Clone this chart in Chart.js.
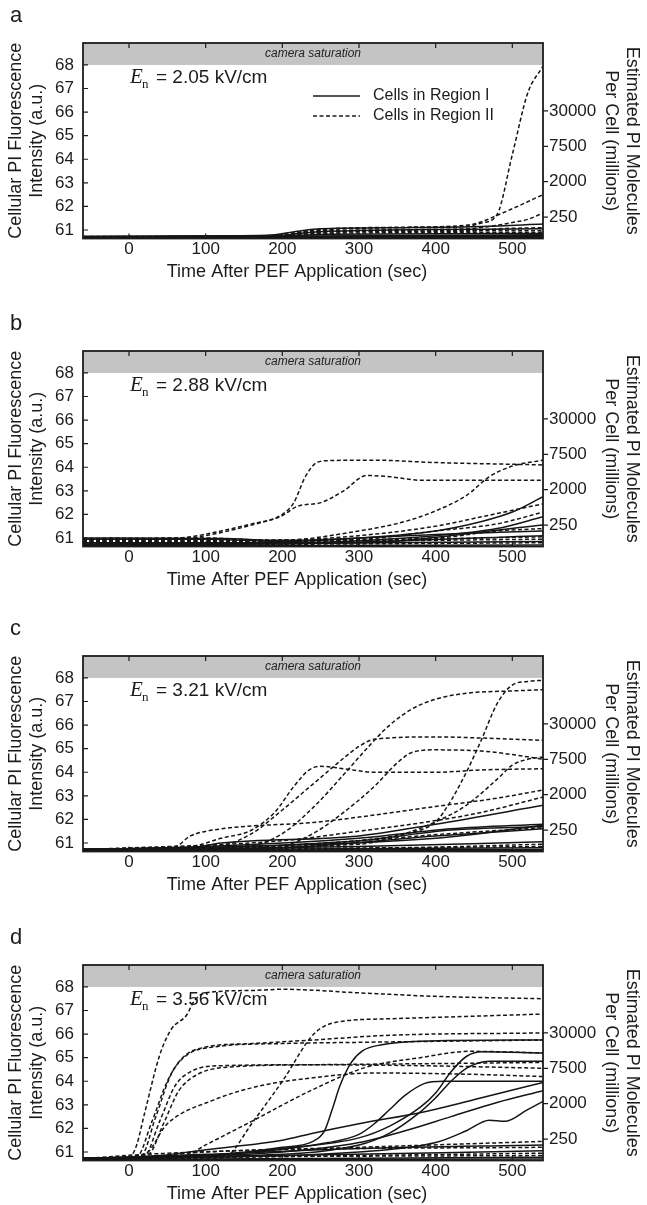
<!DOCTYPE html>
<html>
<head>
<meta charset="utf-8">
<script src="https://cdn.jsdelivr.net/npm/chart.js@4.4.1/dist/chart.umd.min.js"></script>
<style>
  html, body { margin: 0; padding: 0; background: #fff; overflow: hidden; }
  .panel { position: absolute; left: 0; width: 647px; height: 283px; }
</style>
</head>
<body>
<div class="panel" style="top:0px"><canvas id="chartA" width="647" height="283"></canvas></div>
<div class="panel" style="top:308px"><canvas id="chartB" width="647" height="283"></canvas></div>
<div class="panel" style="top:613px"><canvas id="chartC" width="647" height="283"></canvas></div>
<div class="panel" style="top:922px"><canvas id="chartD" width="647" height="283"></canvas></div>
<script>
// axis settings
const xTicks = [0, 100, 200, 300, 400, 500];
const yTicks = [61, 62, 63, 64, 65, 66, 67, 68];
const rightTickValues = [61.55, 63.05, 64.55, 66.05];
const rightTickLabels = ['250', '2000', '7500', '30000'];
const fieldStrengths = ['2.05', '2.88', '3.21', '3.56'];
const panelLetters = ['a', 'b', 'c', 'd'];
const saturationLevel = 68;
const xMin = -60, xMax = 540;
const yMin = 60.64, yMax = 68.93;

// each trace = [time (s), intensity] pairs
// panel a  (2.05 kV/cm)
const aRegionI = [
  [[-60, 60.72], [40, 60.74], [180, 60.78], [220, 60.95], [250, 61.05], [360, 61.1], [460, 61.15], [540, 61.25]],
  [[-60, 60.7], [180, 60.72], [220, 60.85], [260, 60.95], [540, 61.05]],
  [[-60, 60.69], [540, 60.72]],
  [[-60, 60.7], [200, 60.74], [540, 60.8]],
  [[-60, 60.71], [160, 60.72], [540, 60.76]],
  [[-60, 60.67], [540, 60.68]],
  [[-60, 60.73], [200, 60.75], [260, 60.82], [540, 60.85]]
];
const aRegionII = [
  [[-60, 60.72], [180, 60.74], [220, 60.9], [260, 61.02], [360, 61.1], [440, 61.15], [460, 61.3], [480, 61.65], [500, 64.2], [520, 66.8], [540, 67.95]],
  [[-60, 60.71], [200, 60.76], [240, 61.0], [360, 61.12], [440, 61.2], [460, 61.35], [480, 61.62], [500, 61.9], [520, 62.2], [540, 62.5]],
  [[-60, 60.7], [200, 60.74], [240, 60.95], [440, 61.05], [480, 61.2], [500, 61.32], [520, 61.45], [540, 61.72]],
  [[-60, 60.7], [200, 60.73], [240, 60.9], [440, 60.95], [480, 61.05], [540, 61.1]],
  [[-60, 60.7], [200, 60.72], [240, 60.85], [540, 60.9]],
  [[-60, 60.69], [540, 60.75]],
  [[-60, 60.68], [220, 60.72], [260, 60.93], [540, 60.97]]
];

// panel b  (2.88 kV/cm)
const bRegionI = [
  [[-60, 60.95], [100, 60.95], [200, 60.85], [300, 61.0], [400, 61.3], [460, 61.7], [500, 62.1], [540, 62.75]],
  [[-60, 60.8], [200, 60.8], [400, 61.1], [480, 61.4], [540, 61.9]],
  [[-60, 60.75], [300, 60.8], [540, 61.55]],
  [[-60, 60.7], [540, 60.85]],
  [[-60, 60.72], [200, 60.75], [540, 61.1]],
  [[-60, 60.67], [540, 60.7]],
  [[-60, 61.0], [120, 60.98], [200, 60.9], [400, 61.15], [540, 61.3]]
];
const bRegionII = [
  [[-60, 60.95], [40, 60.98], [80, 61.05], [120, 61.3], [160, 61.6], [200, 62.0], [215, 62.5], [230, 63.6], [245, 64.2], [260, 64.28], [320, 64.3], [400, 64.2], [540, 64.1]],
  [[-60, 60.9], [60, 60.92], [100, 61.1], [160, 61.55], [200, 61.95], [220, 62.35], [250, 62.5], [280, 63.0], [310, 63.65], [340, 63.6], [380, 63.45], [540, 63.45]],
  [[-60, 60.85], [200, 60.9], [300, 61.3], [360, 61.7], [400, 62.15], [440, 62.8], [470, 63.6], [500, 64.05], [540, 64.3]],
  [[-60, 60.9], [200, 60.92], [300, 61.1], [400, 61.5], [460, 61.9], [540, 62.45]],
  [[-60, 60.85], [300, 60.95], [400, 61.3], [480, 61.6], [540, 62.1]],
  [[-60, 60.82], [400, 61.0], [480, 61.3], [540, 61.4]],
  [[-60, 60.75], [540, 60.95]],
  [[-60, 60.7], [300, 60.75], [540, 60.8]],
  [[-60, 60.98], [100, 61.0], [200, 60.88], [540, 61.05]]
];

// panel c  (3.21 kV/cm)
const cRegionI = [
  [[-60, 60.75], [80, 60.8], [120, 61.0], [300, 61.3], [400, 61.8], [540, 62.6]],
  [[-60, 60.72], [100, 60.85], [300, 61.2], [420, 61.6], [540, 61.8]],
  [[-60, 60.72], [100, 60.8], [300, 61.1], [420, 61.55], [540, 61.7]],
  [[-60, 60.7], [200, 60.8], [400, 61.3], [540, 61.6]],
  [[-60, 60.7], [300, 60.85], [540, 61.05]],
  [[-60, 60.7], [540, 60.8]],
  [[-60, 60.68], [540, 60.72]],
  [[-60, 60.73], [150, 60.85], [400, 61.2], [540, 61.75]],
  [[-60, 60.66], [540, 60.69]]
];
const cRegionII = [
  [[-60, 60.75], [80, 60.85], [120, 61.2], [160, 61.55], [190, 62.3], [215, 63.4], [235, 64.1], [250, 64.25], [280, 64.15], [320, 64.0], [400, 64.0], [460, 64.1], [540, 64.15]],
  [[-60, 60.75], [120, 60.9], [160, 61.4], [200, 62.4], [240, 63.5], [280, 64.6], [300, 65.1], [320, 65.4], [400, 65.5], [460, 65.45], [540, 65.35]],
  [[-60, 60.72], [160, 60.9], [200, 61.4], [240, 62.5], [280, 63.9], [310, 65.0], [340, 66.0], [370, 66.7], [400, 67.1], [440, 67.35], [500, 67.45], [540, 67.5]],
  [[-60, 60.72], [200, 60.9], [240, 61.4], [280, 62.3], [320, 63.4], [350, 64.4], [370, 64.85], [400, 64.95], [460, 64.9], [500, 64.75], [540, 64.55]],
  [[-60, 60.7], [240, 60.9], [300, 61.1], [360, 61.4], [400, 61.9], [420, 62.8], [440, 64.0], [460, 65.4], [480, 66.9], [500, 67.7], [520, 67.85], [540, 67.9]],
  [[-60, 60.72], [300, 60.95], [360, 61.4], [400, 61.9], [440, 62.6], [480, 63.7], [500, 64.3], [520, 64.55], [540, 64.65]],
  [[-60, 60.75], [60, 60.85], [80, 61.3], [120, 61.6], [160, 61.72], [240, 61.87], [300, 62.1], [400, 62.55], [480, 62.9], [540, 63.25]],
  [[-60, 60.72], [200, 61.1], [300, 61.5], [400, 61.95], [460, 62.3], [540, 62.95]],
  [[-60, 60.7], [200, 60.9], [300, 61.1], [420, 61.4], [540, 61.65]],
  [[-60, 60.7], [540, 60.85]],
  [[-60, 60.68], [300, 60.75], [540, 60.95]]
];

// panel d  (3.56 kV/cm)
const dRegionI = [
  [[-60, 60.75], [100, 60.85], [200, 61.2], [240, 61.45], [255, 61.9], [265, 62.8], [275, 63.8], [290, 64.8], [305, 65.3], [330, 65.55], [380, 65.7], [540, 65.75]],
  [[-60, 60.72], [100, 60.85], [200, 61.15], [300, 61.6], [340, 62.1], [380, 62.9], [400, 63.5], [420, 64.4], [440, 65.05], [460, 65.25], [540, 65.2]],
  [[-60, 60.72], [100, 60.8], [300, 61.3], [340, 61.8], [380, 62.7], [400, 63.3], [420, 64.0], [440, 64.55], [470, 64.85], [540, 64.85]],
  [[-60, 60.72], [100, 60.85], [260, 61.4], [300, 61.75], [320, 62.2], [340, 62.8], [360, 63.4], [385, 63.9], [410, 64.0], [540, 64.0]],
  [[-60, 60.72], [40, 60.85], [100, 61.1], [200, 61.5], [240, 61.8], [300, 62.2], [384, 62.7], [460, 63.3], [540, 63.95]],
  [[-60, 60.7], [200, 61.0], [300, 61.4], [360, 61.9], [420, 62.5], [480, 63.1], [540, 63.6]],
  [[-60, 60.7], [300, 61.0], [400, 61.4], [440, 61.9], [470, 62.35], [490, 62.3], [520, 62.8], [540, 63.15]],
  [[-60, 60.72], [100, 60.9], [300, 61.15], [540, 61.3]],
  [[-60, 60.7], [200, 60.85], [540, 61.05]],
  [[-60, 60.68], [540, 60.78]],
  [[-60, 60.66], [540, 60.7]]
];
const dRegionII = [
  [[-60, 60.72], [0, 60.75], [10, 61.3], [20, 62.6], [40, 65.1], [55, 66.2], [75, 66.8], [85, 67.4], [100, 67.75], [160, 67.85], [200, 67.9], [300, 67.75], [400, 67.6], [540, 67.5]],
  [[-60, 60.72], [120, 60.75], [130, 60.85], [160, 62.2], [200, 64.0], [241, 66.0], [270, 66.5], [340, 66.65], [440, 66.75], [540, 66.85]],
  [[-60, 60.72], [10, 60.8], [30, 62.3], [50, 64.0], [70, 65.0], [100, 65.45], [160, 65.6], [240, 65.75], [340, 65.95], [540, 66.05]],
  [[-60, 60.72], [15, 60.8], [35, 62.5], [55, 64.3], [75, 65.1], [110, 65.45], [200, 65.6], [300, 65.65], [540, 65.75]],
  [[-60, 60.72], [20, 60.85], [40, 62.3], [60, 63.8], [80, 64.4], [110, 64.65], [240, 64.7], [400, 64.65], [540, 64.55]],
  [[-60, 60.72], [25, 60.9], [45, 62.2], [65, 63.6], [90, 64.3], [130, 64.6], [240, 64.7], [400, 64.75], [540, 64.8]],
  [[-60, 60.72], [20, 60.9], [50, 62.2], [110, 63.2], [170, 63.8], [240, 64.15], [320, 64.35], [440, 64.3], [540, 64.2]],
  [[-60, 60.72], [70, 60.8], [100, 61.3], [160, 62.3], [240, 63.65], [310, 64.6], [380, 65.0], [445, 65.27], [540, 65.2]],
  [[-60, 60.72], [20, 60.8], [100, 61.0], [300, 61.2], [540, 61.45]],
  [[-60, 60.7], [540, 60.95]],
  [[-60, 60.72], [20, 60.9], [200, 61.1], [540, 61.2]],
  [[-60, 60.69], [100, 60.78], [540, 60.85]]
];

const FONT = '"Liberation Sans", Arial, sans-serif';
const INK = '#1c1c1c';

function toPoints(series) {
  return series.map(p => ({ x: p[0], y: p[1] }));
}

// band, labels, frame and tick marks in MATLAB style
const panelDecor = {
  id: 'panelDecor',
  beforeDatasetsDraw(chart, args, opts) {
    const ctx = chart.ctx;
    const area = chart.chartArea;
    const ys = chart.scales.y;
    const satY = ys.getPixelForValue(saturationLevel);
    ctx.save();
    ctx.fillStyle = '#c4c4c4';
    ctx.fillRect(area.left, area.top, area.right - area.left, satY - area.top);
    ctx.fillStyle = '#222';
    ctx.font = 'italic 12px ' + FONT;
    ctx.textAlign = 'center';
    ctx.textBaseline = 'middle';
    ctx.fillText('camera saturation', (area.left + area.right) / 2, (area.top + satY) / 2);

    // field strength label
    ctx.textAlign = 'left';
    ctx.textBaseline = 'alphabetic';
    ctx.fillStyle = INK;
    const bx = area.left + 47, by = area.top + 40;
    ctx.font = 'italic 21px "Liberation Serif", serif';
    ctx.fillText('E', bx, by);
    ctx.font = '13px "Liberation Serif", serif';
    ctx.fillText('n', bx + 12, by + 5);
    ctx.font = '19px ' + FONT;
    ctx.fillText('= ' + opts.field + ' kV/cm', bx + 26, by);
    ctx.restore();
  },
  afterDatasetsDraw(chart, args, opts) {
    const ctx = chart.ctx;
    const area = chart.chartArea;
    const xs = chart.scales.x, ys = chart.scales.y;
    ctx.save();
    ctx.strokeStyle = INK;
    ctx.lineWidth = 1.8;
    ctx.strokeRect(area.left, area.top, area.right - area.left, area.bottom - area.top);

    ctx.lineWidth = 1.2;
    ctx.beginPath();
    xTicks.forEach(v => {
      const px = xs.getPixelForValue(v);
      ctx.moveTo(px, area.bottom); ctx.lineTo(px, area.bottom - 5);
      ctx.moveTo(px, area.top); ctx.lineTo(px, area.top + 5);
    });
    yTicks.forEach(v => {
      const py = ys.getPixelForValue(v);
      ctx.moveTo(area.left, py); ctx.lineTo(area.left + 5, py);
    });
    rightTickValues.forEach(v => {
      const py = ys.getPixelForValue(v);
      ctx.moveTo(area.right, py); ctx.lineTo(area.right + 5, py);
    });
    ctx.stroke();

    // x axis title
    ctx.fillStyle = INK;
    ctx.font = '18px ' + FONT;
    ctx.textAlign = 'center';
    ctx.textBaseline = 'middle';
    ctx.fillText('Time After PEF Application (sec)', 297, area.bottom + 34);

    // panel letter
    ctx.textAlign = 'left';
    ctx.font = '22px ' + FONT;
    ctx.fillText(opts.letter, 10, 16);

    if (opts.legend) {
      const lx = 313, ly1 = area.top + 53, ly2 = area.top + 73;
      ctx.lineWidth = 1.5;
      ctx.beginPath();
      ctx.moveTo(lx, ly1); ctx.lineTo(lx + 47, ly1);
      ctx.stroke();
      ctx.setLineDash([4, 2.5]);
      ctx.beginPath();
      ctx.moveTo(lx, ly2); ctx.lineTo(lx + 47, ly2);
      ctx.stroke();
      ctx.setLineDash([]);
      ctx.font = '16px ' + FONT;
      ctx.fillText('Cells in Region I', lx + 60, ly1);
      ctx.fillText('Cells in Region II', lx + 60, ly2);
    }
    ctx.restore();
  }
};

function makeChart(id, n, regionI, regionII) {
  const datasets = [];
  regionII.forEach(s => datasets.push({ data: toPoints(s), borderDash: [4, 2.5] }));
  regionI.forEach(s => datasets.push({ data: toPoints(s), borderDash: [] }));

  const tickFont = { family: FONT, size: 17 };
  const titleFont = { family: FONT, size: 18, lineHeight: 1.2 };

  return new Chart(document.getElementById(id).getContext('2d'), {
    type: 'line',
    data: { datasets: datasets },
    options: {
      responsive: false,
      animation: false,
      layout: { padding: { top: 43, left: 0, right: 0, bottom: 0 } },
      elements: {
        point: { radius: 0 },
        line: { borderColor: '#151515', borderWidth: 1.5, fill: false, cubicInterpolationMode: 'monotone' }
      },
      plugins: {
        legend: { display: false },
        tooltip: { enabled: false },
        panelDecor: { letter: panelLetters[n], field: fieldStrengths[n], legend: n === 0 }
      },
      scales: {
        x: {
          type: 'linear', min: xMin, max: xMax,
          afterBuildTicks: s => { s.ticks = xTicks.map(v => ({ value: v })); },
          afterFit: s => { s.height = 44.5; },
          grid: { display: false, drawTicks: false },
          border: { display: false },
          ticks: { padding: 1, color: INK, font: tickFont, maxRotation: 0, autoSkip: false }
        },
        y: {
          position: 'left', min: yMin, max: yMax,
          afterBuildTicks: s => { s.ticks = yTicks.map(v => ({ value: v })); },
          afterFit: s => { s.width = 83; },
          grid: { display: false, drawTicks: false },
          border: { display: false },
          ticks: { padding: 9, color: INK, font: tickFont, autoSkip: false },
          title: {
            display: true, color: INK, font: titleFont,
            text: ['Cellular PI Fluorescence', 'Intensity (a.u.)'],
            padding: { top: 5, bottom: 0 }
          }
        },
        y2: {
          position: 'right', min: yMin, max: yMax,
          afterBuildTicks: s => { s.ticks = rightTickValues.map(v => ({ value: v })); },
          afterFit: s => { s.width = 104; },
          grid: { display: false, drawTicks: false },
          border: { display: false },
          ticks: { padding: 6, color: INK, font: tickFont, autoSkip: false,
                   callback: (v, i) => rightTickLabels[i] },
          title: {
            display: true, color: INK, font: titleFont,
            text: ['Estimated PI Molecules', 'Per Cell (millions)'],
            padding: { top: 4, bottom: 0 }
          }
        }
      }
    },
    plugins: [panelDecor]
  });
}

makeChart('chartA', 0, aRegionI, aRegionII);
makeChart('chartB', 1, bRegionI, bRegionII);
makeChart('chartC', 2, cRegionI, cRegionII);
makeChart('chartD', 3, dRegionI, dRegionII);
</script>
</body>
</html>
